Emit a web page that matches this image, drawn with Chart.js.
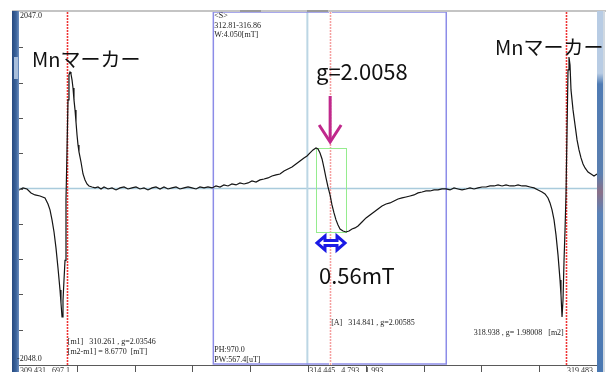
<!DOCTYPE html>
<html>
<head>
<meta charset="utf-8">
<script src="https://cdn.jsdelivr.net/npm/chart.js@4.4.1/dist/chart.umd.min.js"></script>
<style>
html,body{margin:0;padding:0;background:#fff;}
#wrap{position:relative;width:612px;height:382px;}
canvas{display:block;}
</style>
</head>
<body>
<div id="wrap"><canvas id="c" width="612" height="382"></canvas></div>
<script>
// ---- data (field in mT, intensity in a.u.) ----
const field = [
309.431,309.501,309.570,309.640,309.709,309.796,309.883,309.935,309.970,310.005,
310.040,310.074,310.109,310.144,310.161,310.179,310.196,310.213,310.231,310.248,
310.266,310.283,310.300,310.318,310.335,310.353,310.370,310.387,310.405,310.422,
310.440,310.457,310.474,310.509,310.544,310.579,310.613,310.648,310.700,310.753,
310.805,310.857,310.909,310.979,311.048,311.118,311.187,311.257,311.326,311.396,
311.465,311.535,311.604,311.674,311.744,311.813,311.883,311.952,312.022,312.091,
312.161,312.230,312.300,312.370,312.439,312.509,312.578,312.648,312.717,312.787,
312.856,312.926,312.995,313.065,313.134,313.204,313.274,313.343,313.413,313.482,
313.552,313.621,313.691,313.760,313.830,313.900,313.969,314.039,314.108,314.178,
314.247,314.317,314.386,314.439,314.491,314.543,314.595,314.630,314.665,314.700,
314.734,314.769,314.804,314.839,314.873,314.908,314.943,314.978,315.013,315.065,
315.117,315.169,315.221,315.273,315.326,315.395,315.465,315.534,315.604,315.673,
315.743,315.813,315.882,315.952,316.021,316.091,316.160,316.230,316.299,316.369,
316.439,316.508,316.578,316.647,316.717,316.786,316.856,316.925,316.995,317.065,
317.134,317.204,317.273,317.343,317.412,317.482,317.551,317.621,317.691,317.760,
317.830,317.899,317.969,318.038,318.108,318.178,318.247,318.317,318.386,318.456,
318.525,318.577,318.629,318.664,318.699,318.734,318.768,318.803,318.838,318.855,
318.873,318.890,318.908,318.925,318.942,318.960,318.977,318.994,319.012,319.029,
319.064,319.099,319.134,319.168,319.203,319.238,319.273,319.325,319.377,319.429,
319.481
];
const intensity = [
-17,6,-6,-52,-75,-87,-110,-180,-249,-365,
-505,-690,-922,-1177,-1328,-1491,-1299,-1067,-835,-133,
447,1027,1317,1351,1328,1259,1166,1027,911,771,
621,505,424,307,168,99,52,29,17,6,
17,-6,17,-6,6,-17,6,17,-6,6,
17,-6,6,-17,6,17,-6,17,-6,6,
17,-6,6,17,6,-6,17,6,17,6,
29,17,41,29,52,41,64,52,64,87,
75,99,110,122,145,157,168,203,226,249,
284,319,354,377,412,447,470,458,412,342,
238,122,17,-75,-191,-284,-365,-423,-470,-493,
-505,-493,-470,-458,-435,-389,-342,-307,-273,-238,
-203,-180,-168,-145,-122,-110,-99,-87,-75,-52,
-41,-29,-29,-17,-17,-6,-6,-17,6,-6,
-17,-6,6,-6,6,17,17,29,29,41,
29,41,29,29,41,29,29,17,6,-17,
-41,-64,-110,-168,-249,-365,-539,-771,-1061,-1235,
-1491,-1293,-829,-481,-75,679,1375,1525,1433,1143,
911,737,563,447,354,284,238,191,168,145,
168
];
// axis range
const fieldRange = [309.431, 319.481];
const intensityRange = [-2048, 2047.0];
// markers
const mnMarkers = [310.261, 318.938];        // m1, m2
const peakA = 314.841;                       // [A]
const sWindow = [312.81, 316.86];            // <S>
const cursorField = 314.445;
const ppFields = [314.595, 315.117];         // peak-to-peak box (0.56 mT)
const ppValues = [470, -505];
// texts
const mnLabel = 'Mnマーカー';
const gLabel = 'g=2.0058';
const widthLabel = '0.56mT';
const sInfo = ['<S>', '312.81-316.86', 'W:4.050[mT]'];
const m1Info = ['[m1]   310.261 , g=2.03546', '[m2-m1] = 8.6770  [mT]'];
const phInfo = ['PH:970.0', 'PW:567.4[uT]'];
const aInfo = '[A]   314.841 , g=2.00585';
const m2Info = '318.938 , g= 1.98008   [m2]';
const yTopLabel = '2047.0';
const yBottomLabel = '-2048.0';
const bottomLabels = ['309.431 , 697.1', '314.445 , 4.793 , 1.993', '319.483'];

const points = field.map((f, i) => ({x: f, y: intensity[i]}));

function dotted(ctx, px, top, bottom, core, halo) {
  for (let yy = top; yy < bottom; yy += 3) {
    ctx.fillStyle = halo; ctx.fillRect(px - 1, yy, 3, 2);
    ctx.fillStyle = core; ctx.fillRect(px, yy, 1, 2);
  }
}

const decor = {
  id: 'decor',
  beforeDatasetsDraw(chart) {
    const {ctx, chartArea: a, scales: {x, y}} = chart;
    ctx.save();
    // zero line
    ctx.strokeStyle = '#a9cbdc'; ctx.lineWidth = 1.5;
    const y0 = y.getPixelForValue(0);
    ctx.beginPath(); ctx.moveTo(a.left, y0); ctx.lineTo(a.right, y0); ctx.stroke();
    // cursor line
    ctx.strokeStyle = '#bcd6e4'; ctx.lineWidth = 2;
    const xc = x.getPixelForValue(cursorField);
    ctx.beginPath(); ctx.moveTo(xc, a.top); ctx.lineTo(xc, a.bottom); ctx.stroke();
    // <S> window
    ctx.strokeStyle = '#8c8ce8'; ctx.lineWidth = 1.5;
    const s0 = x.getPixelForValue(sWindow[0]), s1 = x.getPixelForValue(sWindow[1]);
    ctx.strokeRect(s0, a.top, s1 - s0, a.bottom - a.top - 1);
    // marker lines (dotted)
    mnMarkers.forEach(m => dotted(ctx, Math.round(x.getPixelForValue(m)), a.top, a.bottom, '#f03434', '#f9c4c4'));
    dotted(ctx, Math.round(x.getPixelForValue(peakA)), a.top, a.bottom, '#f4a0a0', '#fde4e4');
    // peak-to-peak box
    ctx.strokeStyle = '#95ec8e'; ctx.lineWidth = 1;
    const b0 = x.getPixelForValue(ppFields[0]), b1 = x.getPixelForValue(ppFields[1]);
    const t0 = y.getPixelForValue(ppValues[0]), t1 = y.getPixelForValue(ppValues[1]);
    ctx.strokeRect(Math.round(b0) + 0.5, Math.round(t0) + 0.5, Math.round(b1 - b0), Math.round(t1 - t0));
    ctx.restore();
  },
  afterDatasetsDraw(chart) {
    const {ctx, chartArea: a, scales: {x, y}} = chart;
    ctx.save();
    // top gray frame
    ctx.fillStyle = '#c4c4c4';
    ctx.fillRect(12, a.top - 2, 594, 2);
    ctx.fillStyle = '#9a9a9a';
    ctx.fillRect(240, a.top - 2, 21, 2);
    ctx.fillRect(307, a.top - 2, 21, 2);
    // bottom axis line
    ctx.fillStyle = '#5a5a5a';
    ctx.fillRect(a.left, a.bottom, a.right - a.left, 1);
    // y ticks inside left
    ctx.fillStyle = '#555';
    for (let i = 1; i < 10; i++) {
      const v = intensityRange[0] + (intensityRange[1] - intensityRange[0]) * i / 10;
      const py = Math.round(y.getPixelForValue(v));
      ctx.fillRect(a.left, py, 4, 1);
    }
    // x ticks below axis
    for (let i = 1; i < 10; i++) {
      const v = fieldRange[0] + (fieldRange[1] - fieldRange[0]) * i / 10;
      const px = Math.round(x.getPixelForValue(v));
      ctx.fillRect(px, a.bottom, 1, 7);
    }
    // bottom labels, clipped (partially hidden strip)
    ctx.save();
    ctx.beginPath(); ctx.rect(a.left, a.bottom + 1, a.right - a.left, 6); ctx.clip();
    ctx.fillStyle = '#333'; ctx.font = '8px "Liberation Serif"'; ctx.textBaseline = 'top';
    ctx.textAlign = 'left';
    ctx.fillText(bottomLabels[0], a.left + 1, a.bottom + 2);
    ctx.fillText(bottomLabels[1], x.getPixelForValue(cursorField) + 2, a.bottom + 2);
    ctx.textAlign = 'right';
    ctx.fillText(bottomLabels[2], a.right - 4, a.bottom + 2);
    ctx.restore();
    // left scroll bar
    let g = ctx.createLinearGradient(12, 0, 19, 0);
    g.addColorStop(0, '#26497f'); g.addColorStop(0.6, '#3c649c'); g.addColorStop(1, '#6e8fbf');
    ctx.fillStyle = g; ctx.fillRect(12, a.top - 1, 7, 373 - a.top);
    ctx.fillStyle = '#a9bfdc'; ctx.fillRect(14, 57, 4, 22);
    // right scroll bar
    g = ctx.createLinearGradient(0, a.top, 0, 372);
    g.addColorStop(0, '#b8cce4'); g.addColorStop(0.17, '#b8cce4'); g.addColorStop(0.2, '#4f7bb4');
    g.addColorStop(0.45, '#5a7fb0'); g.addColorStop(0.5, '#8a7088'); g.addColorStop(0.56, '#5a82b8');
    g.addColorStop(1, '#4a78b2');
    ctx.fillStyle = g; ctx.fillRect(a.right, a.top - 1, 6, 373 - a.top);
    ctx.fillStyle = '#d0d8e0'; ctx.fillRect(a.right + 6, a.top - 1, 2, 373 - a.top);

    // small serif texts
    ctx.fillStyle = '#222'; ctx.font = '8px "Liberation Serif"';
    ctx.textAlign = 'left'; ctx.textBaseline = 'middle';
    ctx.fillText(yTopLabel, a.left + 1, 16);
    ctx.fillText(yBottomLabel, a.left - 2, 359);
    const sx = x.getPixelForValue(sWindow[0]) + 1;
    sInfo.forEach((t, i) => ctx.fillText(t, sx, 16 + i * 9.5));
    const m1x = x.getPixelForValue(mnMarkers[0]) + 1;
    m1Info.forEach((t, i) => ctx.fillText(t, m1x, 342 + i * 9.5));
    phInfo.forEach((t, i) => ctx.fillText(t, sx, 350 + i * 9.5));
    ctx.fillText(aInfo, x.getPixelForValue(peakA) + 1, 323);
    ctx.textAlign = 'right';
    ctx.fillText(m2Info, x.getPixelForValue(mnMarkers[1]) - 2, 333);

    // large annotation texts
    ctx.textAlign = 'left'; ctx.textBaseline = 'alphabetic'; ctx.fillStyle = '#111';
    ctx.font = '20px "Noto Sans CJK JP"';
    ctx.fillText(mnLabel, 32, 67);
    ctx.fillText(mnLabel, 495, 55);
    ctx.font = '22px "Noto Sans CJK JP"';
    ctx.fillText(gLabel, 316, 80);
    ctx.fillText(widthLabel, 319, 284);

    // magenta arrow at g-value position
    const ax = x.getPixelForValue(peakA);
    ctx.strokeStyle = '#c0288c'; ctx.lineWidth = 3; ctx.lineCap = 'butt'; ctx.lineJoin = 'miter';
    ctx.beginPath(); ctx.moveTo(ax, 96); ctx.lineTo(ax, 141); ctx.stroke();
    ctx.beginPath(); ctx.moveTo(ax - 11, 125); ctx.lineTo(ax, 142); ctx.lineTo(ax + 11, 125); ctx.stroke();

    // blue double arrow across peak-to-peak width
    const l = x.getPixelForValue(ppFields[0]) + 1, r = x.getPixelForValue(ppFields[1]) - 1, cy = 243;
    ctx.strokeStyle = '#1a1ae6'; ctx.fillStyle = '#fff'; ctx.lineWidth = 3;
    ctx.beginPath();
    ctx.moveTo(l, cy); ctx.lineTo(l + 8, cy - 7); ctx.lineTo(l + 8, cy - 2.5);
    ctx.lineTo(r - 8, cy - 2.5); ctx.lineTo(r - 8, cy - 7); ctx.lineTo(r, cy);
    ctx.lineTo(r - 8, cy + 7); ctx.lineTo(r - 8, cy + 2.5); ctx.lineTo(l + 8, cy + 2.5);
    ctx.lineTo(l + 8, cy + 7); ctx.closePath();
    ctx.fill(); ctx.stroke();
    ctx.restore();
  }
};

new Chart(document.getElementById('c'), {
  type: 'line',
  data: {
    datasets: [{
      data: points,
      borderColor: '#151515',
      borderWidth: 1.2,
      pointRadius: 0,
      tension: 0,
      fill: false
    }]
  },
  options: {
    responsive: false,
    devicePixelRatio: 1,
    animation: false,
    layout: {padding: {left: 19, top: 12, right: 15, bottom: 17}},
    plugins: {legend: {display: false}, tooltip: {enabled: false}},
    scales: {
      x: {type: 'linear', min: fieldRange[0], max: fieldRange[1], display: false},
      y: {min: intensityRange[0], max: intensityRange[1], display: false}
    }
  },
  plugins: [decor]
});
</script>
</body>
</html>
